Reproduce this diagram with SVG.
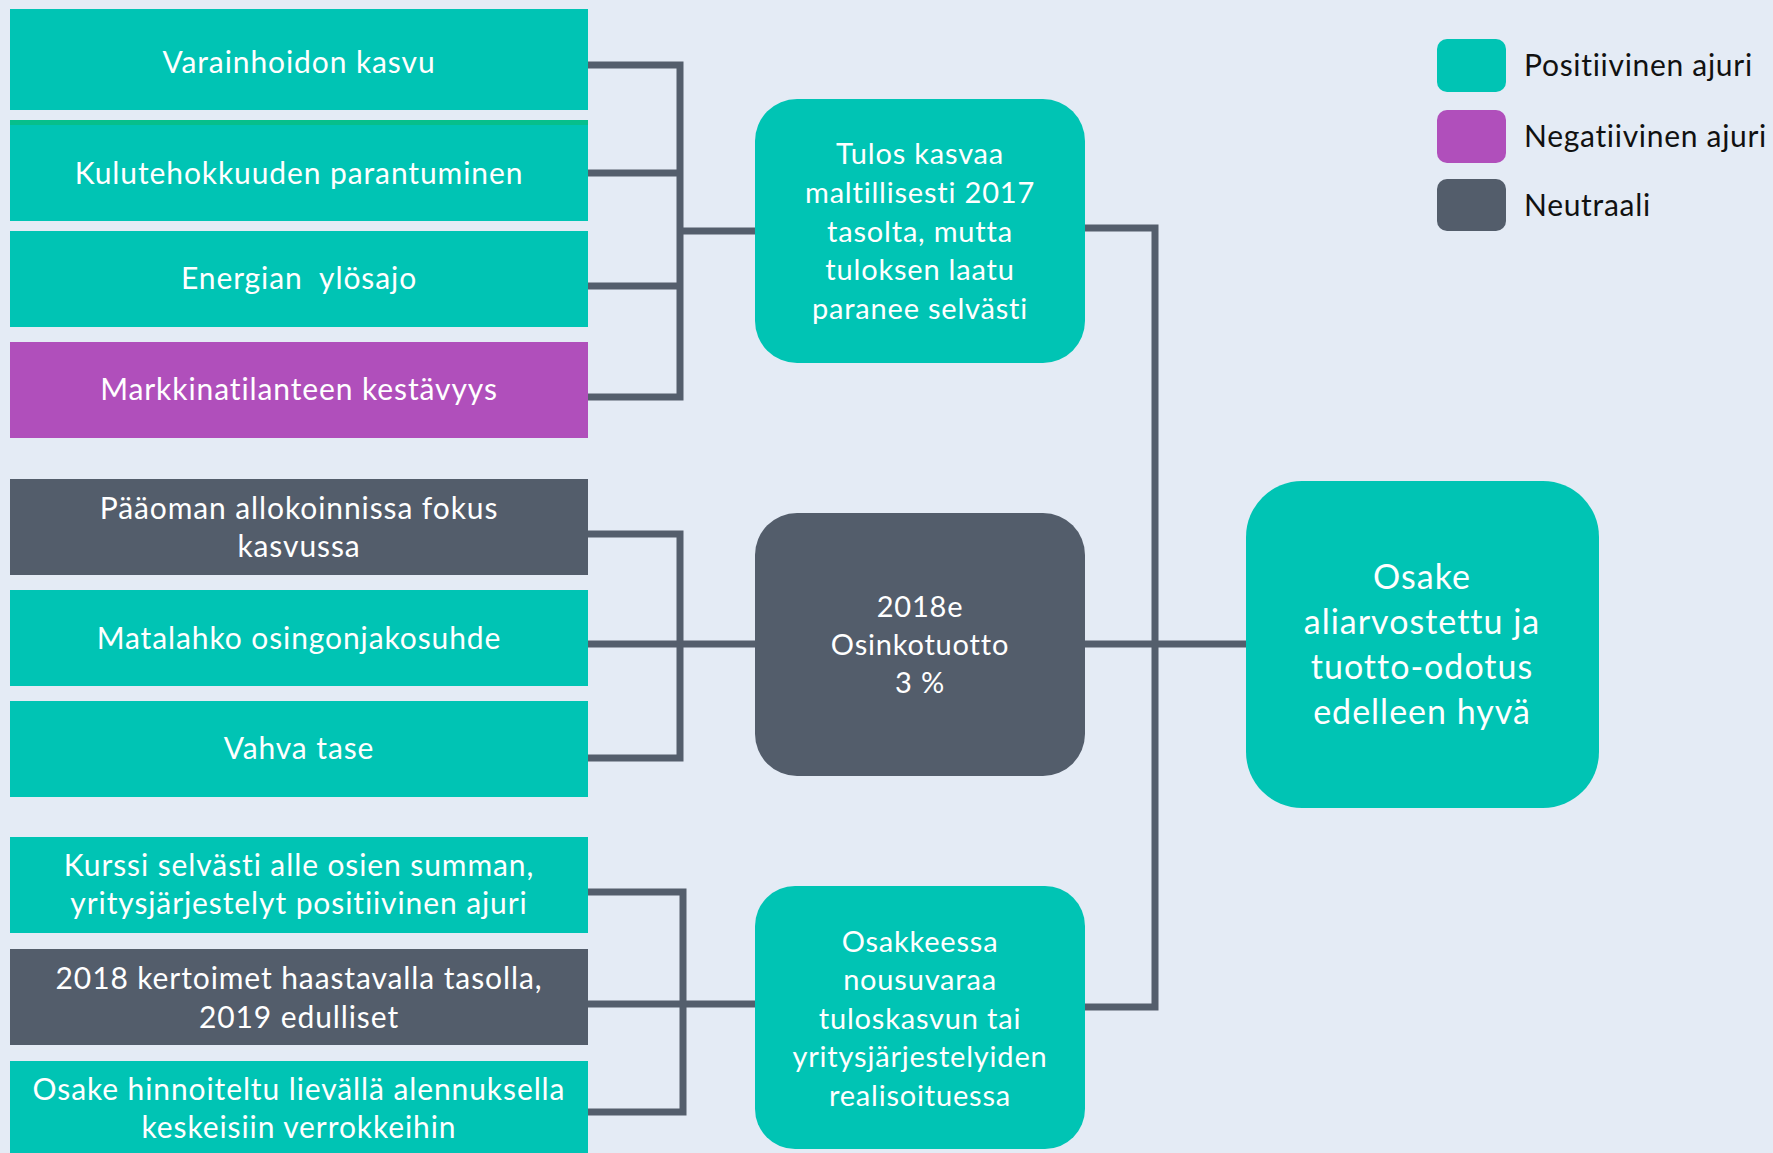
<svg xmlns="http://www.w3.org/2000/svg" width="1773" height="1153" viewBox="0 0 1773 1153">
  <style>
    .pos { fill: #00C4B4; }
    .neg { fill: #B04FBB; }
    .neu { fill: #535D6B; }
    text { font-family: Lato, "Open Sans", sans-serif; font-variant-ligatures: none; }
    .t { fill: #FFFFFF; text-anchor: middle; font-size: 30px; letter-spacing: 0.9px; }
    .tc { fill: #FFFFFF; text-anchor: middle; font-size: 29px; letter-spacing: 0.8px; }
    .tb { fill: #FFFFFF; text-anchor: middle; font-size: 34px; letter-spacing: 1px; }
    .lg { fill: #111111; font-size: 30px; letter-spacing: 0.7px; }
    .wire { fill: none; stroke: #545E6C; stroke-width: 7; stroke-linecap: square; stroke-linejoin: miter; }
  </style>
  <rect x="0" y="0" width="1773" height="1153" fill="#E4EBF5"/>

  <!-- connectors -->
  <g id="connectors">
    <!-- group 1: earnings drivers -->
    <path class="wire" d="M588 65 H680 M588 173 H680 M588 286 H680 M586 397 H680 M680 65 V397 M680 231 H755"/>
    <!-- group 2: dividend drivers -->
    <path class="wire" d="M588 534 H680 M588 644 H680 M588 758 H680 M680 534 V758 M680 644 H755"/>
    <!-- group 3: valuation drivers -->
    <path class="wire" d="M588 892 H683 M588 1004 H683 M588 1112 H683 M683 892 V1112 M683 1004 H755"/>
    <!-- right trunk to conclusion -->
    <path class="wire" d="M1084 228 H1155 V1007 H1084 M1084 644 H1248"/>
  </g>

  <!-- left-hand driver boxes -->
  <g id="n-varainhoito">
    <rect class="pos" x="10" y="9" width="578" height="101"/>
    <text class="t" x="299" y="73">Varainhoidon kasvu</text>
  </g>
  <g id="n-kulutehokkuus">
    <rect class="pos" x="10" y="120" width="578" height="101"/>
    <rect x="10" y="120" width="578" height="5" fill="#06BF8C"/>
    <text class="t" x="299" y="184">Kulutehokkuuden parantuminen</text>
  </g>
  <g id="n-energia">
    <rect class="pos" x="10" y="231" width="578" height="96"/>
    <text class="t" x="299" y="289" xml:space="preserve">Energian  ylösajo</text>
  </g>
  <g id="n-markkina">
    <rect class="neg" x="10" y="342" width="578" height="96"/>
    <text class="t" x="299" y="400">Markkinatilanteen kestävyys</text>
  </g>
  <g id="n-paaoma">
    <rect class="neu" x="10" y="479" width="578" height="96"/>
    <text class="t" x="299" y="519">Pääoman allokoinnissa fokus</text>
    <text class="t" x="299" y="557">kasvussa</text>
  </g>
  <g id="n-osingonjako">
    <rect class="pos" x="10" y="590" width="578" height="96"/>
    <text class="t" x="299" y="649">Matalahko osingonjakosuhde</text>
  </g>
  <g id="n-tase">
    <rect class="pos" x="10" y="701" width="578" height="96"/>
    <text class="t" x="299" y="759">Vahva tase</text>
  </g>
  <g id="n-kurssi">
    <rect class="pos" x="10" y="837" width="578" height="96"/>
    <text class="t" x="299" y="876">Kurssi selvästi alle osien summan,</text>
    <text class="t" x="299" y="914">yritysjärjestelyt positiivinen ajuri</text>
  </g>
  <g id="n-kertoimet">
    <rect class="neu" x="10" y="949" width="578" height="96"/>
    <text class="t" x="299" y="989">2018 kertoimet haastavalla tasolla,</text>
    <text class="t" x="299" y="1028">2019 edulliset</text>
  </g>
  <g id="n-hinnoittelu">
    <rect class="pos" x="10" y="1061" width="578" height="100"/>
    <text class="t" x="299" y="1100">Osake hinnoiteltu lievällä alennuksella</text>
    <text class="t" x="299" y="1138">keskeisiin verrokkeihin</text>
  </g>

  <!-- middle summary boxes -->
  <g id="n-tulos">
    <rect class="pos" x="755" y="99" width="330" height="264" rx="42" ry="42"/>
    <text class="tc" x="920" y="164">Tulos kasvaa</text>
    <text class="tc" x="920" y="203">maltillisesti 2017</text>
    <text class="tc" x="920" y="242">tasolta, mutta</text>
    <text class="tc" x="920" y="280">tuloksen laatu</text>
    <text class="tc" x="920" y="319">paranee selvästi</text>
  </g>
  <g id="n-osinko">
    <rect class="neu" x="755" y="513" width="330" height="263" rx="42" ry="42"/>
    <text class="tc" x="920" y="617">2018e</text>
    <text class="tc" x="920" y="655">Osinkotuotto</text>
    <text class="tc" x="920" y="693">3 %</text>
  </g>
  <g id="n-nousuvara">
    <rect class="pos" x="755" y="886" width="330" height="263" rx="40" ry="40"/>
    <text class="tc" x="920" y="952">Osakkeessa</text>
    <text class="tc" x="920" y="990">nousuvaraa</text>
    <text class="tc" x="920" y="1029">tuloskasvun tai</text>
    <text class="tc" x="920" y="1067">yritysjärjestelyiden</text>
    <text class="tc" x="920" y="1106">realisoituessa</text>
  </g>

  <!-- conclusion -->
  <g id="n-osake">
    <rect class="pos" x="1246" y="481" width="353" height="327" rx="56" ry="56"/>
    <text class="tb" x="1422" y="589">Osake</text>
    <text class="tb" x="1422" y="634">aliarvostettu ja</text>
    <text class="tb" x="1422" y="679">tuotto-odotus</text>
    <text class="tb" x="1422" y="724">edelleen hyvä</text>
  </g>

  <!-- legend -->
  <g id="legend">
    <rect class="pos" x="1437" y="39" width="69" height="53" rx="10" ry="10"/>
    <text class="lg" x="1524" y="76">Positiivinen ajuri</text>
    <rect class="neg" x="1437" y="110" width="69" height="53" rx="10" ry="10"/>
    <text class="lg" x="1524" y="147">Negatiivinen ajuri</text>
    <rect class="neu" x="1437" y="179" width="69" height="52" rx="10" ry="10"/>
    <text class="lg" x="1524" y="216">Neutraali</text>
  </g>
</svg>
